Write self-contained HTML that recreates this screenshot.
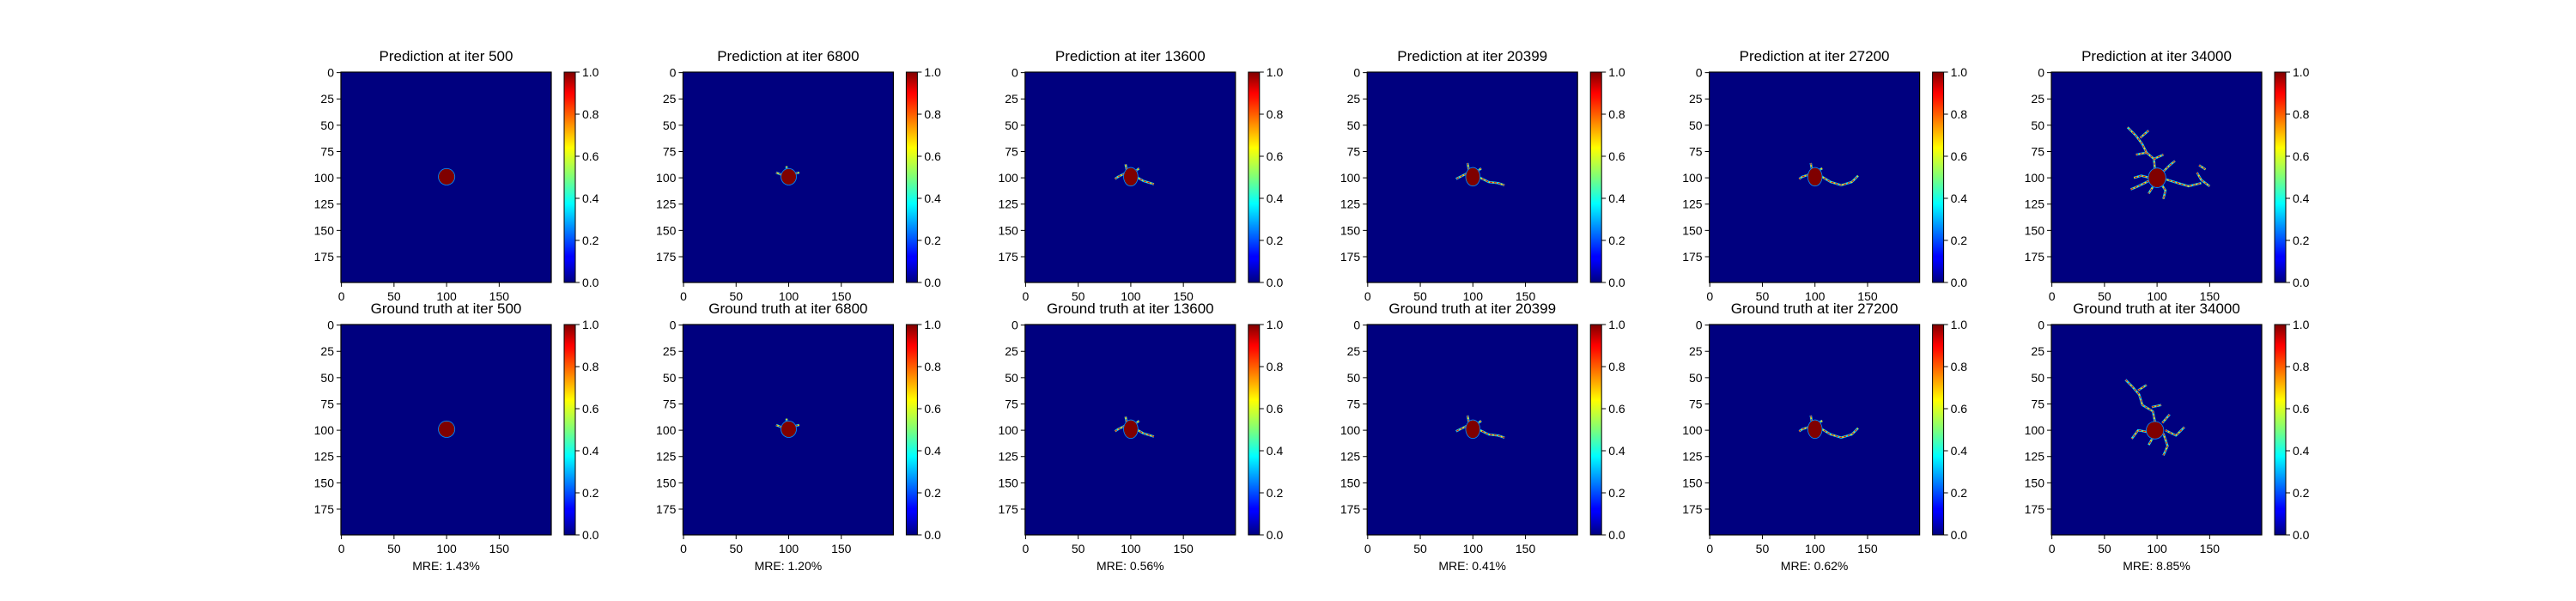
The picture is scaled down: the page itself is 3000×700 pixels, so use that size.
<!DOCTYPE html>
<html><head><meta charset="utf-8"><style>
body{margin:0;background:#fff;}
svg{display:block;font-family:"Liberation Sans","DejaVu Sans",sans-serif;}
</style></head><body>
<svg id="fig" width="3000" height="700" viewBox="0 0 3000 700" xmlns="http://www.w3.org/2000/svg">
<defs>
<linearGradient id="jet" x1="0" y1="1" x2="0" y2="0">
<stop offset="0" stop-color="#00007f"/><stop offset="0.11" stop-color="#0000ff"/>
<stop offset="0.125" stop-color="#0000ff"/><stop offset="0.34" stop-color="#00ddff"/>
<stop offset="0.375" stop-color="#00ffff"/><stop offset="0.5" stop-color="#7dff7a"/>
<stop offset="0.64" stop-color="#ffff00"/><stop offset="0.875" stop-color="#ff1300"/>
<stop offset="0.9" stop-color="#ff0000"/><stop offset="1" stop-color="#7f0000"/>
</linearGradient>
</defs>
</svg>
<script>
const iters = ["500","6800","13600","20399","27200","34000"];
const mre = ["1.43%","1.20%","0.56%","0.41%","0.62%","8.85%"];
const yTicks = [0,25,50,75,100,125,150,175];
const xTicks = [0,50,100,150];
const cbTicks = [0.0,0.2,0.4,0.6,0.8,1.0];
// seed blob per panel: [cx, cy, rx, ry] in data cells
const predBlobs = [[100,99,7.5,7.5],[100,99,7,7.5],[100,99,6.5,8.5],[100,99,6.5,8.5],[100,99,6.5,8.5],[100,100,8,9]];
const truthBlobs = [[100,99,7.5,7.5],[100,99,7,7.5],[100,99,6.5,8.5],[100,99,6.5,8.5],[100,99,6.5,8.5],[98,100,8,8]];
// dendrite branches (data coords) per panel
const predBranches = [
 [],
 [[[93,97],[88,95]],[[98,93],[98,89]],[[106,96],[110,95]]],
 [[[94,96],[88,99],[85,101]],[[96,92],[95,87]],[[104,94],[108,91]],[[105,99],[112,103],[122,106]]],
 [[[94,96],[88,99],[84,101]],[[96,92],[95,86]],[[104,94],[108,91]],[[105,99],[115,104],[124,105],[130,107]]],
 [[[94,97],[88,99],[85,101]],[[97,92],[96,86]],[[103,93],[107,91]],[[105,98],[115,104],[125,107],[135,104],[141,98]]],
 [[[98,92],[97,82],[90,76],[86,68],[80,60],[72,52]],[[84,62],[92,55]],[[90,76],[80,78]],[[97,82],[106,78]],[[106,94],[112,88],[117,84]],[[93,100],[85,98],[78,100]],[[92,103],[82,108],[75,111]],[[97,107],[92,115]],[[104,106],[108,112],[106,120]],[[107,101],[120,105],[130,108],[142,105]],[[138,95],[142,102],[150,108]],[[140,88],[146,92]]]
];
const truthBranches = [
 [],
 [[[93,97],[88,95]],[[98,93],[98,89]],[[106,96],[110,95]]],
 [[[94,96],[88,99],[85,101]],[[96,92],[95,87]],[[104,94],[108,91]],[[105,99],[112,103],[122,106]]],
 [[[94,96],[88,99],[84,101]],[[96,92],[95,86]],[[104,94],[108,91]],[[105,99],[115,104],[124,105],[130,107]]],
 [[[94,97],[88,99],[85,101]],[[97,92],[96,86]],[[103,93],[107,91]],[[105,98],[115,104],[125,107],[135,104],[141,98]]],
 [[[98,92],[96,82],[86,76],[83,66],[76,58],[70,52]],[[82,62],[90,57]],[[95,78],[104,76]],[[105,93],[112,85]],[[93,102],[82,100],[76,108]],[[96,107],[92,114]],[[106,103],[110,115],[106,124]],[[108,100],[118,105],[126,97]]]
];

const NS="http://www.w3.org/2000/svg";
const svg=document.getElementById('fig');
function mk(tag,attrs,parent){const e=document.createElementNS(NS,tag);for(const k in attrs)e.setAttribute(k,attrs[k]);(parent||svg).appendChild(e);return e;}
const W=245, H=245, lefts0=397, step=398.4, tops=[84,378];
function drawPanel(col,row){
  const L=lefts0+col*step, T=tops[row];
  const sx=v=>L+(v+0.5)*W/200, sy=v=>T+(v+0.5)*H/200, sc=W/200;
  const g=mk('g',{});
  
  
  const t=mk('text',{x:L+W/2,y:T-13,'text-anchor':'middle','font-size':'17',fill:'#000'},g);
  t.textContent=(row===0?'Prediction':'Ground truth')+' at iter '+iters[col];
  
  const bg=mk('rect',{x:L,y:T,width:W,height:H,fill:'#00007f'},g);
  
  const br=(row===0?predBranches:truthBranches)[col];
  const bl=(row===0?predBlobs:truthBlobs)[col];
  br.forEach(b=>{const pts=b.map(p=>sx(p[0])+','+sy(p[1])).join(' ');
    const c=mk('polyline',{points:pts,fill:'none',stroke:'#00d0ff','stroke-width':2.6,'stroke-linejoin':'round'},g);
    });
  br.forEach(b=>{const pts=b.map(p=>sx(p[0])+','+sy(p[1])).join(' ');
    mk('polyline',{points:pts,fill:'none',stroke:'#ffe000','stroke-width':1.6,'stroke-linejoin':'round','stroke-dasharray':'2 1.5'},g);
    mk('polyline',{points:pts,fill:'none',stroke:'#ee0000','stroke-width':1,'stroke-linejoin':'round','stroke-dasharray':'3 2'},g);});
  mk('ellipse',{cx:sx(bl[0]),cy:sy(bl[1]),rx:bl[2]*sc+0.8,ry:bl[3]*sc+0.8,fill:'#0090ff'},g);
  const e=mk('ellipse',{cx:sx(bl[0]),cy:sy(bl[1]),rx:bl[2]*sc,ry:bl[3]*sc,fill:'#7f0000'},g);
  
  mk('rect',{x:L,y:T,width:W,height:H,fill:'none',stroke:'#000','stroke-width':1.2},g);
  yTicks.forEach(v=>{const y=sy(v);mk('line',{x1:L-5,x2:L,y1:y,y2:y,stroke:'#000','stroke-width':1},g);
    const tx=mk('text',{x:L-8,y:y+5,'text-anchor':'end','font-size':'14',fill:'#000'},g);tx.textContent=v;
    });
  xTicks.forEach(v=>{const x=sx(v);mk('line',{x1:x,x2:x,y1:T+H,y2:T+H+5,stroke:'#000','stroke-width':1},g);
    const tx=mk('text',{x:x,y:T+H+21,'text-anchor':'middle','font-size':'14',fill:'#000'},g);tx.textContent=v;
    });
  const cbL=L+260, cbW=13;
  const cb=mk('rect',{x:cbL,y:T,width:cbW,height:H,fill:'url(#jet)',stroke:'#000','stroke-width':1},g);
  
  cbTicks.forEach(v=>{const y=T+H-v*H;mk('line',{x1:cbL+cbW,x2:cbL+cbW+5,y1:y,y2:y,stroke:'#000','stroke-width':1},g);
    const tx=mk('text',{x:cbL+cbW+8,y:y+5,'font-size':'14',fill:'#000'},g);tx.textContent=v.toFixed(1);
    });
  if(row===1){const m=mk('text',{x:L+W/2,y:T+H+41,'text-anchor':'middle','font-size':'14',fill:'#000'},g);
    m.textContent='MRE: '+mre[col];}
}
for(let c=0;c<6;c++){drawPanel(c,0);drawPanel(c,1);}
</script>
</body></html>
